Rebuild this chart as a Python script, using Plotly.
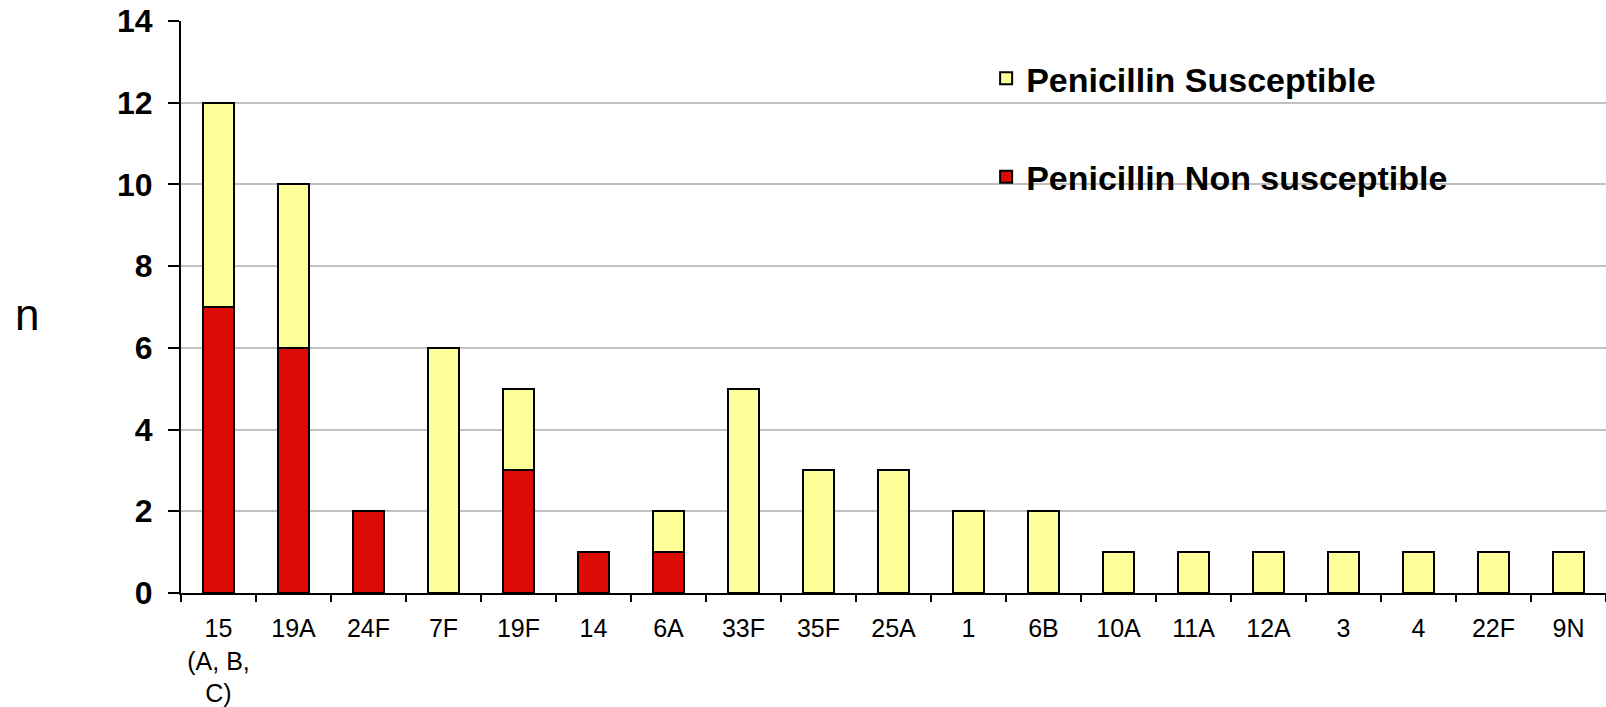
import plotly.graph_objects as go

categories = ["15<br>(A, B,<br>C)", "19A", "24F", "7F", "19F", "14", "6A", "33F", "35F",
              "25A", "1", "6B", "10A", "11A", "12A", "3", "4", "22F", "9N"]
non_susceptible = [7, 6, 2, 0, 3, 1, 1, 0, 0, 0, 0, 0, 0, 0, 0, 0, 0, 0, 0]
susceptible = [5, 4, 0, 6, 2, 0, 1, 5, 3, 3, 2, 2, 1, 1, 1, 1, 1, 1, 1]
y_ticks = [0, 2, 4, 6, 8, 10, 12, 14]

RED = "#DD0A06"
YELLOW = "#FFFF99"
FONT = "Arial, Liberation Sans, sans-serif"

fig = go.Figure()
fig.add_trace(go.Bar(
    x=categories, y=non_susceptible, name="Penicillin Non susceptible",
    marker=dict(color=RED, line=dict(color="black", width=2)),
    legend="legend2", showlegend=True,
))
fig.add_trace(go.Bar(
    x=categories, y=susceptible, name="Penicillin Susceptible",
    marker=dict(color=YELLOW, line=dict(color="black", width=2)),
    legend="legend", showlegend=True,
))

LEG_FONT = dict(size=34, family=FONT, color="black", weight="bold")

fig.update_layout(
    width=1606, height=707,
    margin=dict(l=181, r=0, t=21, b=114, autoexpand=False),
    barmode="stack", bargap=0.59,
    showlegend=True,
    plot_bgcolor="white", paper_bgcolor="white",
    font=dict(family=FONT, color="black"),
    legend=dict(x=0.565, y=0.899, xanchor="left", yanchor="middle",
                font=LEG_FONT, bgcolor="rgba(0,0,0,0)", visible=True),
    legend2=dict(x=0.565, y=0.727, xanchor="left", yanchor="middle",
                 font=LEG_FONT, bgcolor="rgba(0,0,0,0)", visible=True),
    annotations=[dict(text="n", xref="paper", yref="paper", x=-0.108, y=0.4875,
                      xanchor="center", yanchor="middle", showarrow=False,
                      font=dict(size=44, family=FONT, color="black"))],
)
fig.update_xaxes(
    type="category", showline=True, linecolor="black", linewidth=2,
    ticks="outside", tickson="boundaries", ticklen=7, tickwidth=2, tickcolor="black",
    tickfont=dict(size=25, family=FONT, color="black"), showgrid=False,
    automargin=False, ticklabelstandoff=12, ticklabeloverflow="allow",
)
fig.update_yaxes(
    range=[0, 14], tickvals=y_ticks, showline=True, linecolor="black", linewidth=2,
    ticks="outside", ticklen=11, tickwidth=2, tickcolor="black",
    tickfont=dict(size=32, family=FONT, color="black", weight="bold"),
    showgrid=True, gridcolor="#C0C0C0", gridwidth=2, zeroline=False,
    ticklabelstandoff=9, automargin=False, ticklabeloverflow="allow",
)

fig.write_html("out.html", config={"displayModeBar": False},
               post_script="document.body.style.margin='0';")
